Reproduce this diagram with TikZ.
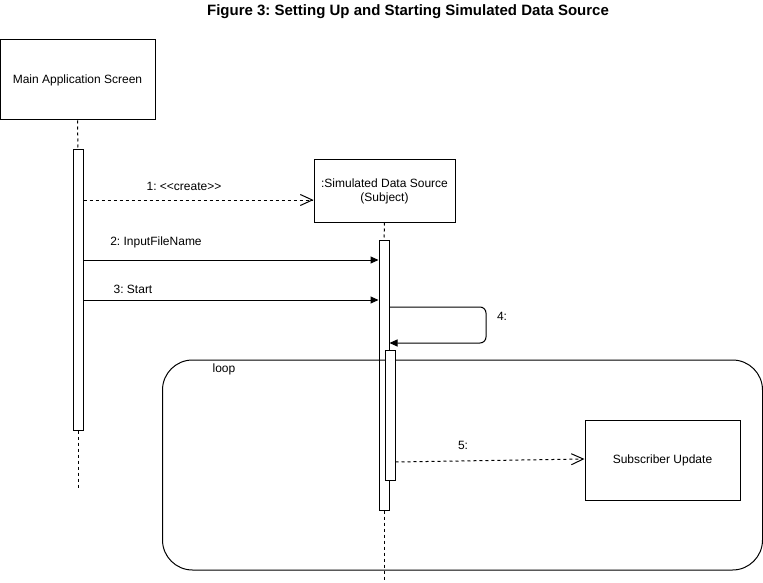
\documentclass[tikz,border=0pt]{standalone}
\usepackage{fontspec}
\setmainfont{Liberation Sans}
\usetikzlibrary{arrows.meta}
\frenchspacing
\begin{document}
\begin{tikzpicture}[x=1pt,y=-1pt,line width=1pt,
  box/.style={draw,fill=white,inner sep=0pt,align=center,font=\fontsize{12}{14}\selectfont},
  bar/.style={draw,fill=white,inner sep=0pt,minimum width=10pt},
  lbl/.style={inner sep=0pt,font=\fontsize{12}{14}\selectfont},
  life/.style={dash pattern=on 3pt off 3pt},
  syncmsg/.style={-{Triangle[length=8pt,width=7pt]}},
  retmsg/.style={dash pattern=on 3pt off 3pt,-{Straight Barb[length=12pt,width=11pt,line width=1pt]}}]
\useasboundingbox (0,0) rectangle (763,583);
\node[inner sep=0pt,font=\fontsize{15}{18}\selectfont\bfseries] (title) at (408,12) {Figure 3: Setting Up and Starting Simulated Data Source};
% lifeline heads
\node[box,minimum width=155pt,minimum height=80pt] (main) at (77.5,80) {Main Application Screen};
\node[box,minimum width=141pt,minimum height=62pt] (sim) at (384.5,191) {:Simulated Data Source\\(Subject)};
% activation bars
\node[bar,minimum height=280pt] (b1) at (78,290) {};
\node[bar,minimum height=270pt] (b2) at (384,375) {};
\coordinate (e1) at (78,490);
\coordinate (e2) at (384,580);
\draw[life] (main.south) -- (b1.north);
\draw[life] (b1.south) -- (e1);
\draw[life] (sim.south) -- (b2.north);
\draw[life] (b2.south) -- (e2);
% loop frame
\node[draw,rounded corners=30pt,minimum width=600pt,minimum height=210pt,inner sep=0pt] (loop) at (462.5,465) {};
\node[lbl] (looplbl) at (224,369) {loop};
\node[bar,minimum height=130pt] (b3) at (390,415) {};
% subscriber box
\node[box,minimum width=155pt,minimum height=80pt] (sub) at (662.5,460) {Subscriber Update};
% messages
\draw[retmsg] (b1.east |- 0,200) -- (sim.west |- 0,200);
\node[lbl] (l1) at (184,186) {1: <{}<create>{}>};
\draw[syncmsg] (b1.east |- 0,260) -- (b2.west |- 0,260);
\node[lbl] (l2) at (156,242) {2: InputFileName};
\draw[syncmsg] (b1.east |- 0,300) -- (b2.west |- 0,300);
\node[lbl] (l3) at (133,289) {3: Start};
\draw[syncmsg,rounded corners=6pt] (b2.east |- 0,307) -- (486,307) -- (486,343) -- (b2.east |- 0,343);
\node[lbl] (l4) at (502,316) {4:};
\draw[retmsg] (b3.east |- 0,462) -- (sub.west |- 0,459);
\node[lbl] (l5) at (463,445) {5:};
\end{tikzpicture}
\end{document}
